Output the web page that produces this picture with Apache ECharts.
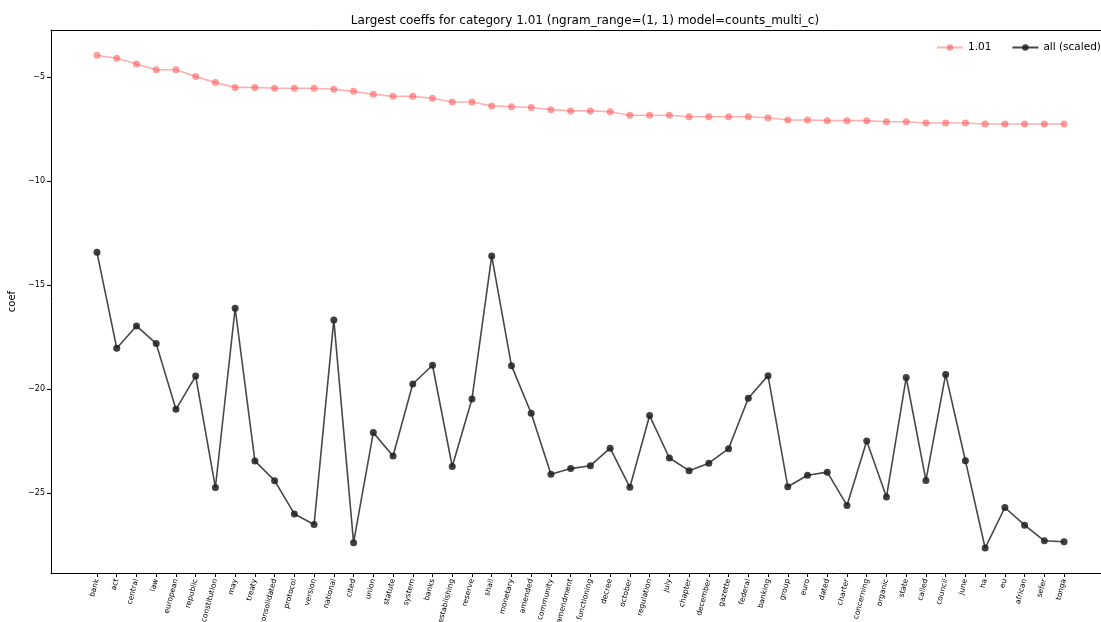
<!DOCTYPE html>
<html>
<head>
<meta charset="utf-8">
<script src="https://cdn.jsdelivr.net/npm/echarts@6/dist/echarts.min.js"></script>
<style>html,body{margin:0;padding:0;background:#fff;}#c{width:1101px;height:622px;}</style>
</head>
<body>
<div id="c"></div>
<script>
const categories = ["bank","act","central","law","european","republic","constitution","may","treaty","consolidated","protocol","version","national","cited","union","statute","system","banks","establishing","reserve","shall","monetary","amended","community","amendment","functioning","decree","october","regulation","july","chapter","december","gazette","federal","banking","group","euro","dated","charter","concerning","organic","state","called","council","june","ha","eu","african","sefer","tonga"];
const coef101 = [-3.96,-4.10,-4.38,-4.65,-4.65,-4.97,-5.27,-5.50,-5.50,-5.54,-5.54,-5.54,-5.59,-5.69,-5.83,-5.93,-5.93,-6.02,-6.20,-6.20,-6.39,-6.43,-6.47,-6.57,-6.63,-6.63,-6.67,-6.84,-6.84,-6.84,-6.91,-6.91,-6.91,-6.91,-6.96,-7.07,-7.07,-7.10,-7.10,-7.10,-7.15,-7.15,-7.21,-7.21,-7.21,-7.26,-7.26,-7.26,-7.26,-7.26];
const coefAll = [-13.43,-18.04,-16.97,-17.82,-20.98,-19.38,-24.74,-16.12,-23.46,-24.41,-26.01,-26.52,-16.68,-27.39,-22.10,-23.22,-19.76,-18.86,-23.73,-20.48,-13.61,-18.88,-21.17,-24.10,-23.83,-23.69,-22.85,-24.73,-21.28,-23.32,-23.93,-23.57,-22.87,-20.45,-19.36,-24.70,-24.15,-24.00,-25.60,-22.50,-25.20,-19.45,-24.40,-19.30,-23.45,-27.65,-25.70,-26.55,-27.30,-27.35];
const yTicks = [-25,-20,-15,-10,-5];
const seriesNames = ["1.01","all (scaled)"];

const xIdx = categories.map((c,i)=>i);
const chart = echarts.init(document.getElementById('c'), null, {renderer:'canvas'});
const font = "DejaVu Sans";
const xMin = -2.33, xMax = 50.87;
chart.setOption({
  animation:false,
  backgroundColor:'#fff',
  textStyle:{fontFamily:font},
  title:{
    text:"Largest coeffs for category 1.01 (ngram_range=(1, 1) model=counts_multi_c)",
    left:580, top:10, textAlign:'center',
    textStyle:{fontFamily:font,fontSize:12,fontWeight:'normal',color:'#000'}
  },
  legend:{
    orient:'horizontal', left:931, top:37, width:400, padding:[5,0,5,5],
    itemWidth:26, itemHeight:8, itemGap:20,
    textStyle:{fontFamily:font,fontSize:10.5,color:'#000'},
    data:seriesNames
  },
  grid:{left:51, top:30, right:0, bottom:49, show:false, containLabel:false, outerBoundsMode:'none'},
  xAxis:[{
    type:'value', min:xMin, max:xMax,
    splitLine:{show:false},
    axisLine:{show:true,onZero:false,lineStyle:{color:'#000',width:1}},
    axisTick:{show:true, customValues:xIdx, length:4, lineStyle:{color:'#000'}},
    axisLabel:{customValues:xIdx, rotate:75, fontSize:7.5, color:'#000', margin:6,
      formatter:v=>categories[Math.round(v)]}
  },{
    type:'value', min:xMin, max:xMax, position:'top',
    splitLine:{show:false},
    axisLine:{show:true,onZero:false,lineStyle:{color:'#000',width:1}},
    axisTick:{show:false}, axisLabel:{show:false}
  }],
  yAxis:{
    type:'value', min:-28.85, max:-2.74,
    name:'coef', nameLocation:'middle', nameGap:30, nameRotate:90,
    nameTextStyle:{fontFamily:font,fontSize:10,color:'#000'},
    splitLine:{show:false},
    axisLine:{show:true,onZero:false,lineStyle:{color:'#000',width:1}},
    axisTick:{show:true, customValues:yTicks, length:4, lineStyle:{color:'#000'}},
    axisLabel:{customValues:yTicks, fontSize:8, color:'#000', margin:6,
      formatter:v=>String(v).replace('-','\u2212')}
  },
  series:[
    {name:seriesNames[0], type:'line', xAxisIndex:0, data:xIdx.map(i=>[i,coef101[i]]),
     symbol:'circle', symbolSize:7,
     lineStyle:{color:'rgba(255,80,80,0.45)',width:1.6},
     itemStyle:{color:'rgba(255,90,90,0.6)',borderWidth:0}},
    {name:seriesNames[1], type:'line', xAxisIndex:0, data:xIdx.map(i=>[i,coefAll[i]]),
     symbol:'circle', symbolSize:7,
     lineStyle:{color:'rgba(0,0,0,0.72)',width:1.6},
     itemStyle:{color:'rgba(30,30,30,0.85)',borderWidth:0}}
  ]
});
</script>
</body>
</html>
